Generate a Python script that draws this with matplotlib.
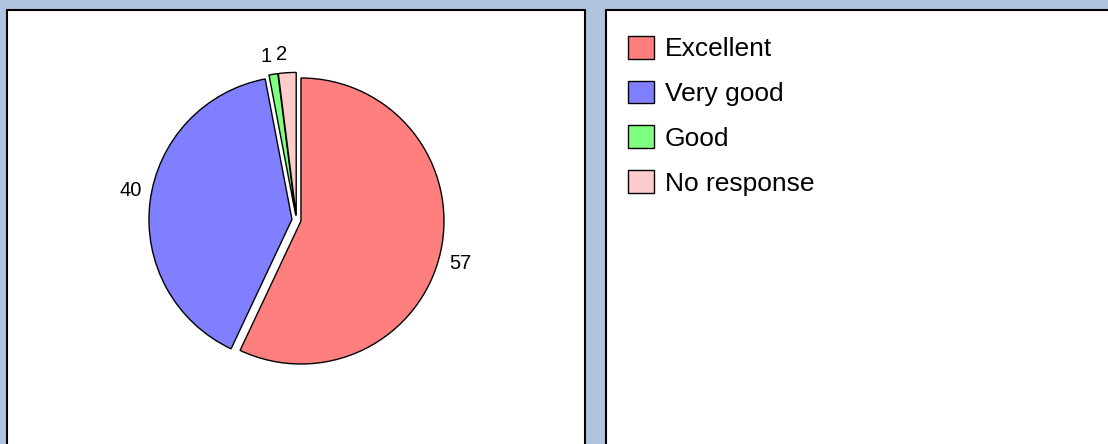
import matplotlib
matplotlib.use("Agg")
import matplotlib.pyplot as plt
from matplotlib.patches import Rectangle

categories = ["Excellent", "Very good", "Good", "No response"]
values = [57, 40, 1, 2]
colors = ["#FF7F7F", "#7F7FFF", "#7FFF7F", "#FFCCCC"]

W, H = 1108, 444
plt.rcParams['font.family'] = ['Liberation Sans', 'DejaVu Sans']

fig = plt.figure(figsize=(W / 100, H / 100), dpi=100)
fig.patch.set_facecolor("#B0C4DE")

def px_rect(x0, y0, x1, y1):
    # pixel coords (top-left origin) -> figure fraction rectangle
    return (x0 / W, 1 - y1 / H, (x1 - x0) / W, (y1 - y0) / H)

for (x0, y0, x1, y1) in [(7, 10, 585, 470), (606, 10, 1130, 470)]:
    l, b, w, h = px_rect(x0, y0, x1, y1)
    fig.patches.append(Rectangle((l, b), w, h, transform=fig.transFigure,
                                 facecolor="white", edgecolor="black",
                                 linewidth=1.5, zorder=-5))

# Pie axes: radius 143 px, center (296.5, 220) px
R = 143.0
cx, cy = 296.5, 220.0
half = 200.0
l, b, w, h = px_rect(cx - half, cy - half, cx + half, cy + half)
ax = fig.add_axes([l, b, w, h])

wedges, texts = ax.pie(values, labels=[str(v) for v in values], colors=colors,
                       startangle=90, counterclock=False,
                       explode=[0.032] * len(values), radius=1.0,
                       labeldistance=1.06,
                       wedgeprops=dict(edgecolor="black", linewidth=1.0),
                       textprops=dict(fontsize=14.5, color="black"))
for t in texts:
    x, y = t.get_position()
    t.set_va("bottom" if y >= 0 else "top")
ax.set_xlim(-half / R, half / R)
ax.set_ylim(-half / R, half / R)
ax.axis("off")

# Legend in right panel
lx, ly = 628 / W, 1 - 36 / H
fig.legend(wedges, categories, loc="upper left", bbox_to_anchor=(lx, ly),
           bbox_transform=fig.transFigure, frameon=False,
           fontsize=19, handlelength=0.98, handleheight=0.95,
           handletextpad=0.42, labelspacing=0.73, borderaxespad=0,
           borderpad=0)

fig.savefig("out.png", dpi=100, facecolor=fig.get_facecolor())
